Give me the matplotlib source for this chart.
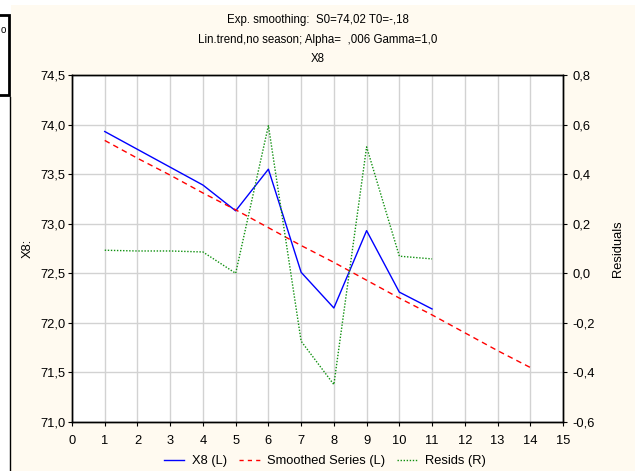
import matplotlib
matplotlib.use("Agg")
import matplotlib.pyplot as plt
from matplotlib.lines import Line2D
from matplotlib.patches import Rectangle
from matplotlib.ticker import FuncFormatter

plt.rcParams["font.family"] = ["Liberation Sans", "DejaVu Sans"]

# --- data --------------------------------------------------------------
x_obs = [1, 2, 3, 4, 5, 6, 7, 8, 9, 10, 11]
x8 = [73.93, 73.75, 73.57, 73.39, 73.13, 73.55, 72.51, 72.15, 72.93, 72.31, 72.14]

x_smooth = [1, 2, 3, 4, 5, 6, 7, 8, 9, 10, 11, 12, 13, 14]
smoothed = [73.84, 73.66, 73.49, 73.31, 73.14, 72.96, 72.78, 72.61, 72.43,
            72.25, 72.08, 71.90, 71.72, 71.55]

resids = [0.093, 0.090, 0.090, 0.086, 0.000, 0.596, -0.274, -0.449, 0.510, 0.069, 0.058]

title_lines = ["Exp. smoothing:  S0=74,02 T0=-,18",
               "Lin.trend,no season; Alpha=  ,006 Gamma=1,0",
               "X8"]

W, H = 635, 471
BG = "#fffaf0"

fig = plt.figure(figsize=(W / 100, H / 100), dpi=100)
fig.patch.set_facecolor("white")

# cream panel + the window fragment on the left
fig.patches.append(Rectangle((11 / W, 0), 1, 1 - 5 / H, transform=fig.transFigure,
                             facecolor=BG, edgecolor="none", zorder=-10))
fig.patches.append(Rectangle((-0.01, 1 - 95 / H), 9 / W + 0.01, 80 / H,
                             transform=fig.transFigure, facecolor="white",
                             edgecolor="black", linewidth=2, zorder=-5))
fig.lines.append(Line2D([10 / W, 10 / W], [0, 1 - 97 / H], transform=fig.transFigure,
                        color="black", linewidth=1))
fig.text(1 / W, 1 - 30 / H, "o", fontsize=7, va="center", ha="left")

ax = fig.add_axes([72 / W, 49 / H, (563 - 72) / W, (422 - 75) / H])
ax.set_facecolor("white")
ax2 = ax.twinx()

comma = FuncFormatter(lambda v, p: f"{v:.1f}".replace(".", ","))

ax.plot(x_obs, x8, color="#0000ff", linewidth=1, label="X8 (L)", zorder=3)
ax.plot(x_smooth, smoothed, color="#ff0000", linewidth=1, linestyle=(0, (4, 3)),
        label="Smoothed Series (L)", zorder=3)
ax2.plot(x_obs, resids, color="#109010", linewidth=1, linestyle=(0, (1, 1.2)),
         label="Resids (R)")

ax.set_xlim(0, 15)
ax.set_ylim(71.0, 74.5)
ax2.set_ylim(-0.6, 0.8)
ax.set_xticks(range(0, 16))
ax.set_yticks([71.0, 71.5, 72.0, 72.5, 73.0, 73.5, 74.0, 74.5])
ax2.set_yticks([-0.6, -0.4, -0.2, 0.0, 0.2, 0.4, 0.6, 0.8])
ax.yaxis.set_major_formatter(comma)
ax2.yaxis.set_major_formatter(comma)

ax.grid(True, color="#d2d2d2", linewidth=1)
for a in (ax, ax2):
    a.tick_params(labelsize=9.3, length=3, width=0.8, colors="black")
    for s in a.spines.values():
        s.set_color("black")
        s.set_linewidth(1)
ax.tick_params(axis="y", pad=1.5)
ax.tick_params(axis="x", pad=6)
ax2.tick_params(axis="y", pad=4)

ax.set_ylabel("X8:", fontsize=9.3, labelpad=5)
ax2.set_ylabel("Residuals", fontsize=9.3, labelpad=12)

for i, line in enumerate(title_lines):
    fig.text(318 / W, 1 - (20 + 19.5 * i) / H, line, fontsize=8.3,
             ha="center", va="center")

handles = [Line2D([], [], color="#0000ff", linewidth=1),
           Line2D([], [], color="#ff0000", linewidth=1, linestyle=(0, (3, 3))),
           Line2D([], [], color="#109010", linewidth=1, linestyle=(0, (1, 1.2)))]
fig.legend(handles, ["X8 (L)", "Smoothed Series (L)", "Resids (R)"],
           loc="center", bbox_to_anchor=(325 / W, 1 - 461 / H), ncol=3,
           frameon=False, fontsize=9.3, handlelength=1.6, handletextpad=0.6,
           columnspacing=0.9)

fig.savefig("out.png", dpi=100, facecolor=fig.get_facecolor())
